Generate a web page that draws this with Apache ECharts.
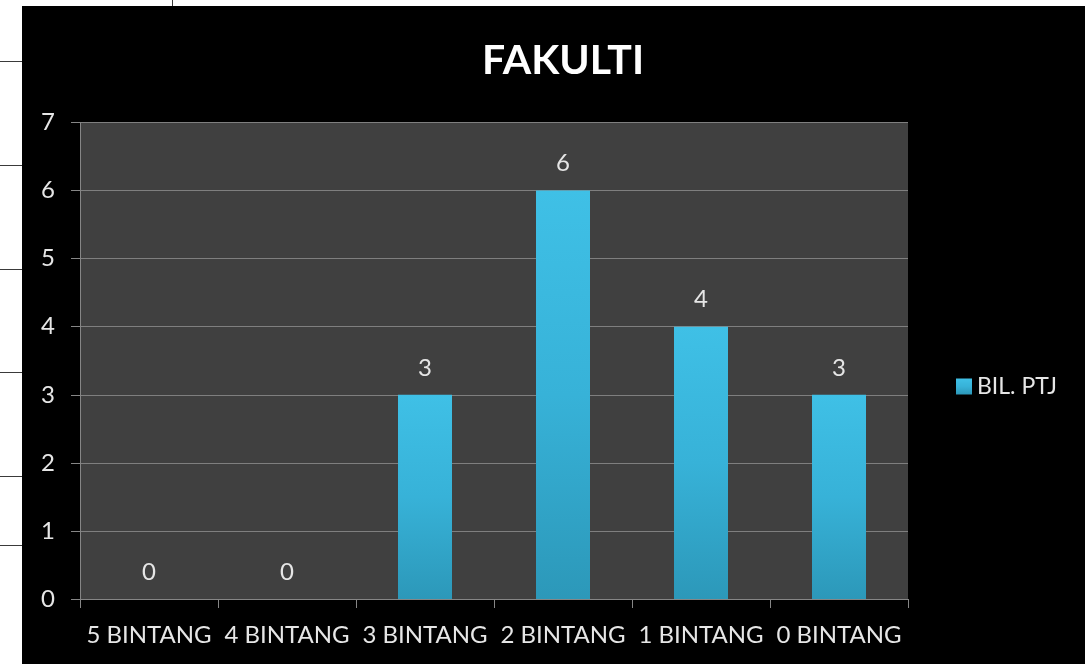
<!DOCTYPE html>
<html>
<head>
<meta charset="utf-8">
<script src="https://cdn.jsdelivr.net/npm/echarts@6/dist/echarts.min.js"></script>
<style>
  html, body { margin: 0; padding: 0; background: #ffffff; width: 1091px; height: 664px; overflow: hidden; position: relative; }
  #chart { position: absolute; left: 22px; top: 6px; width: 1063px; height: 658px; }
  .hl { position: absolute; left: 0; width: 22px; height: 1px; background: #3a3a3a; }
  .vl { position: absolute; top: 0; width: 1px; height: 6px; background: #3a3a3a; }
</style>
</head>
<body>
<div class="hl" style="top:61px"></div>
<div class="hl" style="top:165px"></div>
<div class="hl" style="top:269px"></div>
<div class="hl" style="top:372px"></div>
<div class="hl" style="top:476px"></div>
<div class="hl" style="top:545px"></div>
<div class="vl" style="left:172px"></div>
<div id="chart"></div>
<script>
const titleText = 'FAKULTI';
const seriesName = 'BIL. PTJ';
const categories = ['5 BINTANG', '4 BINTANG', '3 BINTANG', '2 BINTANG', '1 BINTANG', '0 BINTANG'];
const values = [0, 0, 3, 6, 4, 3];
const yMin = 0;
const yMax = 7;
const yInterval = 1;

const FONT = 'Lato, "Open Sans", sans-serif';
const barFill = new echarts.graphic.LinearGradient(0, 0, 0, 1, [
  { offset: 0, color: '#3fc0e6' },
  { offset: 0.5, color: '#37b2d8' },
  { offset: 1, color: '#2c98b9' }
]);

const chart = echarts.init(document.getElementById('chart'), null, { renderer: 'canvas' });
chart.setOption({
  backgroundColor: '#000000',
  animation: false,
  title: {
    text: titleText,
    left: 536,
    top: 29,
    textAlign: 'center',
    textStyle: { color: '#ffffff', fontFamily: FONT, fontWeight: 'bold', fontSize: 41 }
  },
  legend: {
    data: [seriesName],
    left: 929,
    top: 364,
    icon: 'rect',
    itemWidth: 16,
    itemHeight: 16,
    itemGap: 8,
    textStyle: { color: '#e6e6e6', fontFamily: FONT, fontSize: 23 }
  },
  grid: {
    left: 58,
    right: 177,
    top: 116.5,
    bottom: 65,
    show: true,
    backgroundColor: '#404040',
    borderWidth: 0
  },
  xAxis: {
    type: 'category',
    data: categories,
    boundaryGap: true,
    axisLine: { show: true, lineStyle: { color: '#868686', width: 1 } },
    axisTick: { show: true, alignWithLabel: false, interval: 0, length: 9, lineStyle: { color: '#868686' } },
    axisLabel: { color: '#e6e6e6', fontFamily: FONT, fontSize: 24, margin: 24, interval: 0 },
    splitLine: { show: false }
  },
  yAxis: {
    type: 'value',
    min: yMin,
    max: yMax,
    interval: yInterval,
    axisLine: { show: true, lineStyle: { color: '#868686', width: 1 } },
    axisTick: { show: true, length: 9, lineStyle: { color: '#868686' } },
    axisLabel: { color: '#e6e6e6', fontFamily: FONT, fontSize: 24, margin: 25 },
    splitLine: { show: true, lineStyle: { color: '#7f7f7f', width: 1 } }
  },
  series: [{
    name: seriesName,
    type: 'bar',
    data: values,
    barWidth: 54,
    itemStyle: { color: barFill, borderWidth: 0 },
    label: {
      show: true,
      position: 'top',
      distance: 15,
      color: '#e6e6e6',
      fontFamily: FONT,
      fontSize: 24
    }
  }]
});
</script>
</body>
</html>
